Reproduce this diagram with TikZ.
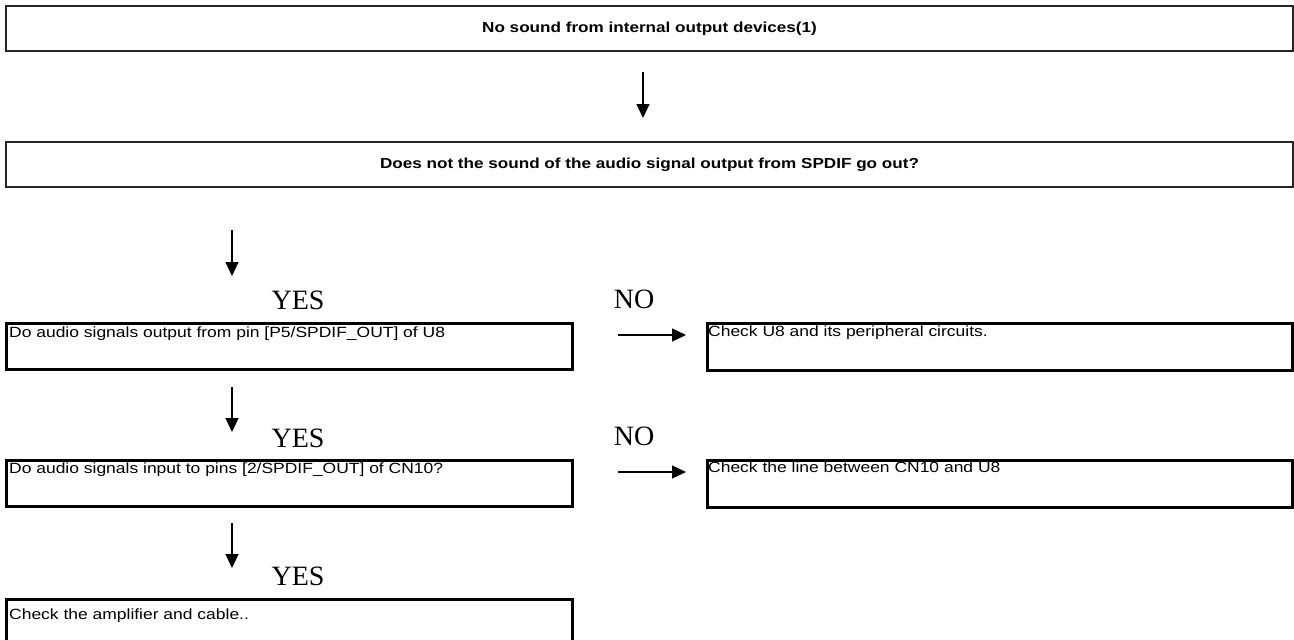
\documentclass[tikz,border=0pt]{standalone}
\usepackage{fontspec}
\setmainfont{Liberation Sans}
\newfontfamily\answerfont{Liberation Serif}
\usetikzlibrary{arrows.meta}
\newcommand{\wide}[1]{\scalebox{1.18}[1]{#1}}

\begin{document}
\begin{tikzpicture}[x=1pt, y=-1pt,
	box/.style={draw, line width=2.5pt, anchor=north west, inner sep=0pt},
	headbox/.style={draw=black!85, line width=2pt, anchor=north west, inner sep=0pt,
		font=\bfseries\fontsize{14.5}{16}\selectfont},
	txt/.style={anchor=base west, inner sep=0pt, font=\fontsize{14.8}{16}\selectfont},
	answer/.style={anchor=base, inner sep=0pt, font=\answerfont\fontsize{28}{30}\selectfont},
	flow/.style={-{Triangle[length=14pt,width=13pt]}, line width=1.2pt}]
	\useasboundingbox (0,0) rectangle (1294,640);
	% top boxes
	\node[headbox, minimum width=1287, minimum height=45] (start) at (5,5) {\wide{No sound from internal output devices(1)}};
	\node[headbox, minimum width=1287, minimum height=45] (spdif) at (5,141) {\wide{Does not the sound of the audio signal output from SPDIF go out?}};
	% questions
	\node[box, minimum width=566, minimum height=46] (qpin) at (5,322) {};
	\node[txt] (qpintext) at (9,337) {\wide{Do audio signals output from pin [P5/SPDIF\_OUT] of U8}};
	\node[box, minimum width=566, minimum height=46] (qcn) at (5,459) {};
	\node[txt] (qcntext) at (9,473) {\wide{Do audio signals input to pins [2/SPDIF\_OUT] of CN10?}};
	\node[box, minimum width=566, minimum height=48] (amp) at (5,598) {};
	\node[txt] (amptext) at (9,619) {\wide{Check the amplifier and cable..}};
	% answers on the right
	\node[box, minimum width=585, minimum height=47] (chku) at (706,322) {};
	\node[txt] (chkutext) at (708,336) {\wide{Check U8 and its peripheral circuits.}};
	\node[box, minimum width=585, minimum height=47] (chkline) at (706,459) {};
	\node[txt] (chklinetext) at (708,472) {\wide{Check the line between CN10 and U8}};
	% yes / no
	\node[answer] (yes1) at (298,309) {YES};
	\node[answer] (yes2) at (298,447) {YES};
	\node[answer] (yes3) at (298,585) {YES};
	\node[answer] (no1) at (634,308) {NO};
	\node[answer] (no2) at (634,445) {NO};
	% arrows
	\coordinate (a0s) at (643,72);  \coordinate (a0e) at (643,118);
	\coordinate (a1s) at (232,230); \coordinate (a1e) at (232,276);
	\coordinate (a2s) at (232,387); \coordinate (a2e) at (232,432);
	\coordinate (a3s) at (232,523); \coordinate (a3e) at (232,568);
	\coordinate (n1s) at (618,335); \coordinate (n1e) at (686,335);
	\coordinate (n2s) at (618,472); \coordinate (n2e) at (686,472);
	\draw[flow] (a0s) -- (a0e);
	\draw[flow] (a1s) -- (a1e);
	\draw[flow] (a2s) -- (a2e);
	\draw[flow] (a3s) -- (a3e);
	\draw[flow] (n1s) -- (n1e);
	\draw[flow] (n2s) -- (n2e);
\end{tikzpicture}
\end{document}
